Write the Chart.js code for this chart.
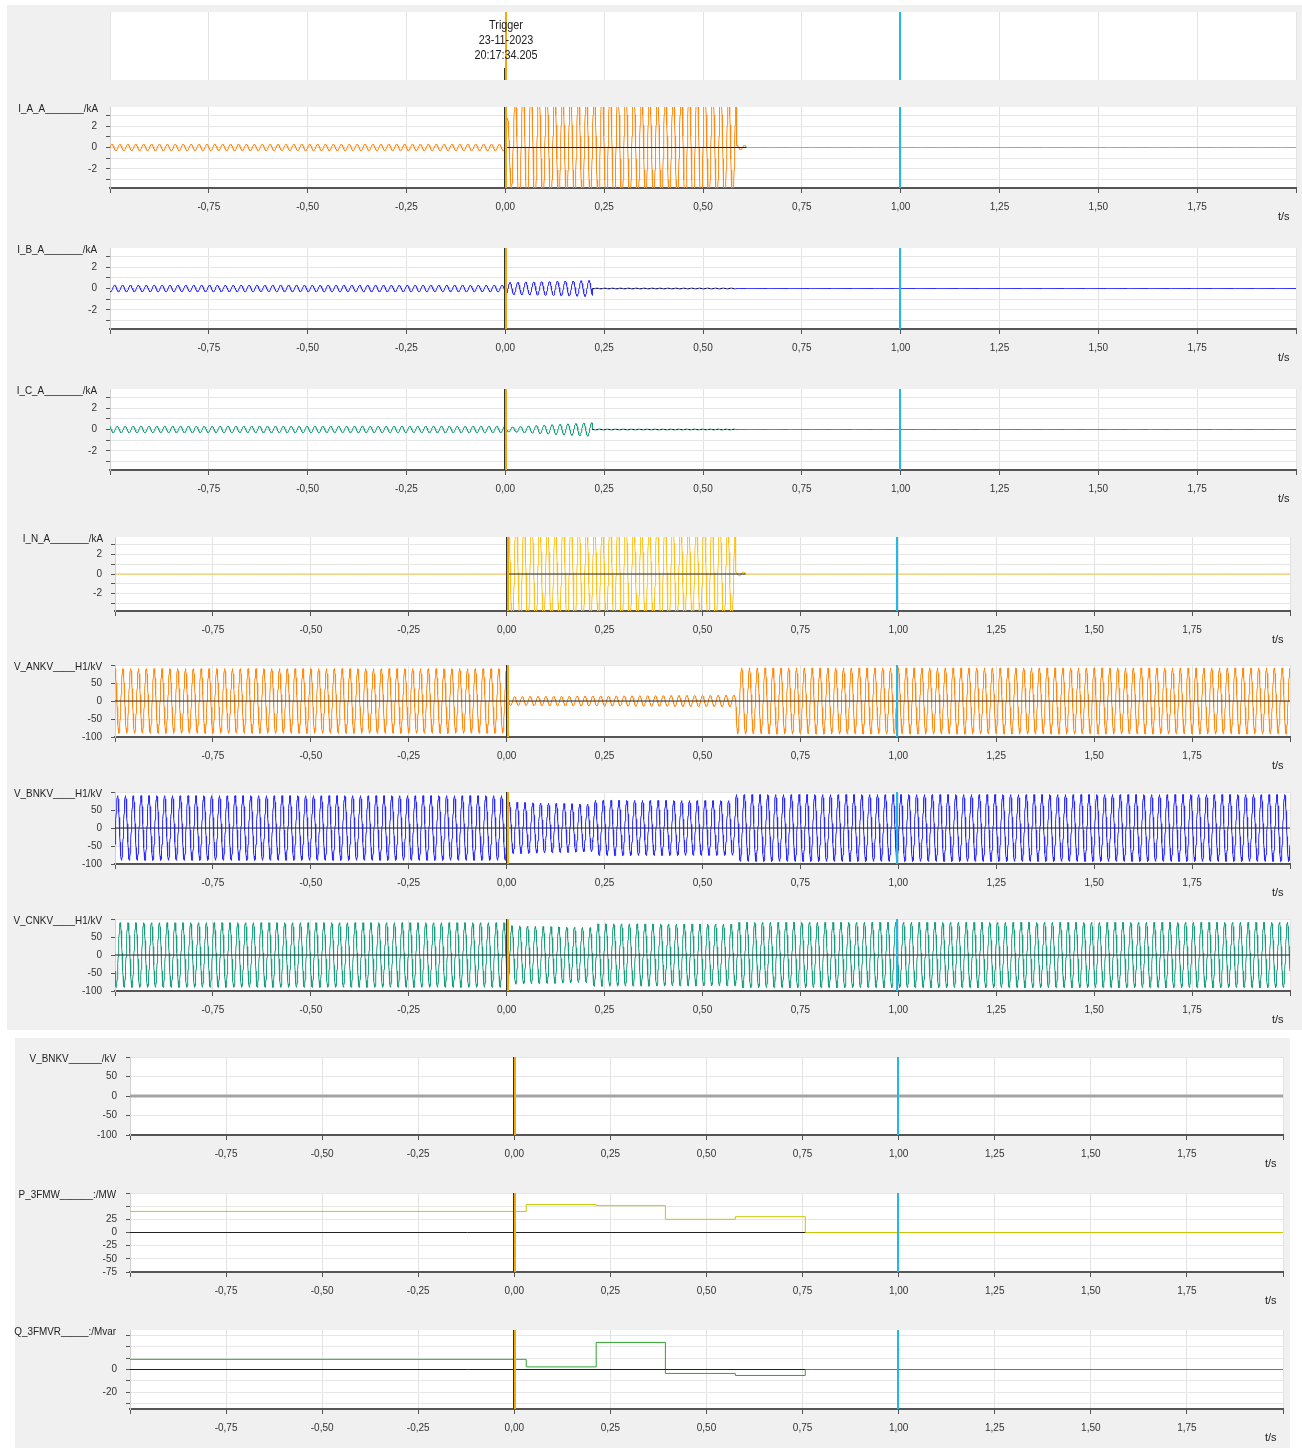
<!DOCTYPE html>
<html>
<head>
<meta charset="utf-8">
<title>Oscillography 23-11-2023</title>
<script src="https://cdn.jsdelivr.net/npm/chart.js@4.4.0/dist/chart.umd.min.js"></script>
<style>
body { margin: 0; background: #fff; width: 1302px; height: 1448px; position: relative; overflow: hidden;
       font-family: "Liberation Sans Narrow", "Liberation Sans", Arial, sans-serif; color: #222; }
.grp { position: absolute; background: #f0f0f0; }
.pan { position: absolute; left: 0; }
.lbl { position: absolute; left: 0; font-size: 11px; line-height: 14px; text-align: right; white-space: nowrap;
       transform: scaleX(0.9); transform-origin: right center; }
.unit { position: absolute; font-size: 11px; line-height: 14px; white-space: nowrap; }
.trig { position: absolute; font-size: 12px; line-height: 15px; text-align: center; width: 120px;
        transform: scaleX(0.9); }
</style>
</head>
<body>
<div class="grp" style="left:7px;top:5px;width:1295px;height:1025px"></div>
<div class="grp" style="left:15px;top:1038px;width:1275px;height:410px"></div>
<div id="root"></div>

<script>
// time axis (s)
const tickTimes = [-1, -0.75, -0.5, -0.25, 0, 0.25, 0.5, 0.75, 1, 1.25, 1.5, 1.75, 2];
const triggerTime = 0;
const cursorTime = 0.995;
const mainsHz = 50;

// phase currents, kA: segment edges, peak at start / end of each segment
const iaEdges = [-1, 0, 0.03, 0.585, 0.61, 2];
const iaPeakFrom = [0.3, 2.2, 5.5, 0.2, 0];
const iaPeakTo = [0.3, 5.5, 5.5, 0.2, 0];

const ibEdges = [-1, 0, 0.22, 0.585, 2];
const ibPeakFrom = [0.3, 0.55, 0.04, 0];
const ibPeakTo = [0.3, 0.75, 0.04, 0];

const icEdges = [-1, 0, 0.22, 0.585, 2];
const icPeakFrom = [0.3, 0.2, 0.04, 0];
const icPeakTo = [0.3, 0.65, 0.04, 0];

const inEdges = [-1, 0, 0.585, 0.61, 2];
const inPeakFrom = [0, 5.5, 0.2, 0];
const inPeakTo = [0, 5.5, 0.2, 0];

// phase voltages, kV
const vaEdges = [-1, 0, 0.585, 2];
const vaPeakFrom = [90, 12, 92];
const vaPeakTo = [90, 16, 92];

const vbEdges = [-1, 0, 0.22, 0.585, 2];
const vbPeakFrom = [90, 72, 77, 93];
const vbPeakTo = [90, 66, 76, 93];

const vcEdges = [-1, 0, 0.22, 0.585, 2];
const vcPeakFrom = [90, 82, 87, 91];
const vcPeakTo = [90, 76, 86, 91];

// second V_BNKV channel (flat)
const vb2Times = [-1, 2];
const vb2Values = [0, 0];

// three phase power, step values
const pqTimes = [-1, 0.031, 0.213, 0.393, 0.575, 0.757, 2];
const pValues = [40, 53, 51, 25, 30, 0, 0];
const qValues = [9, 2.3, 24, -3.5, -5.3, 0, 0];

// black zero reference spans [from, to]
const iaZero = [0, 0.61];
const ibZero = [0.22, 0.585];
const icZero = [0.22, 0.585];
const inZero = [0, 0.61];
const vZero = [-1, 2];
const pqZero = [-1, 0.757];

const ORANGE = '#ff8a14', BLUE = '#2a2aff', TEAL = '#1b9c7e', GOLD = '#ffc21c',
      OLIVE = '#c9c800', GREEN = '#2fa52f';
const FONT = "'Liberation Sans Narrow', 'Liberation Sans', Arial, sans-serif";

function buildWave(edges, from, to, phaseDeg) {
  const pts = [];
  const step = 1 / (mainsHz * 32);
  for (let i = 0; i < edges.length - 1; i++) {
    const a = edges[i], b = edges[i + 1];
    const n = Math.max(1, Math.round((b - a) / step));
    for (let k = 0; k <= n; k++) {
      const t = a + (b - a) * k / n;
      const amp = from[i] + (to[i] - from[i]) * k / n;
      pts.push({x: t, y: amp * Math.sin(2 * Math.PI * mainsHz * t + phaseDeg * Math.PI / 180)});
    }
  }
  return pts;
}

function pairs(xs, ys) {
  return xs.map((x, i) => ({x: x, y: ys[i]}));
}

function zeroLine(span, dashed) {
  return {data: [{x: span[0], y: 0}, {x: span[1], y: 0}], borderColor: '#222', borderWidth: 1,
          borderDash: dashed ? [2, 2] : [], pointRadius: 0};
}

function waveSet(pts, color) {
  return {data: pts, borderColor: color, borderWidth: 1, pointRadius: 0, tension: 0};
}

const whiteArea = {
  id: 'whiteArea',
  beforeDraw(chart) {
    const a = chart.chartArea, c = chart.ctx;
    c.save(); c.fillStyle = '#fff';
    c.fillRect(a.left, a.top, a.right - a.left, a.bottom - a.top);
    c.restore();
  }
};

const markers = {
  id: 'markers',
  afterDatasetsDraw(chart, args, opts) {
    const a = chart.chartArea, c = chart.ctx, x = chart.scales.x;
    const tx = Math.round(x.getPixelForValue(triggerTime));
    const cx = Math.round(x.getPixelForValue(cursorTime));
    c.save();
    c.fillStyle = '#333';
    if (opts.header) c.fillRect(tx - 1, a.bottom - 12, 1, 12);
    else c.fillRect(tx - 1, a.top, 1, a.bottom - a.top);
    c.fillStyle = '#efa90d';
    c.fillRect(tx, a.top, 2, a.bottom - a.top);
    c.fillStyle = '#22b9e8';
    c.fillRect(cx, a.top, 2, a.bottom - a.top);
    c.restore();
  }
};

function addDiv(cls, style, text) {
  const d = document.createElement('div');
  d.className = cls;
  d.style.cssText = style;
  if (text) d.textContent = text;
  document.getElementById('root').appendChild(d);
  return d;
}

function panelConfig(p, xH) {
  return {
    type: 'line',
    data: {datasets: p.datasets || []},
    options: {
      responsive: false, maintainAspectRatio: false, animation: false, events: [],
      parsing: false, normalized: true,
      layout: {padding: {top: 2, right: 6, left: 0, bottom: 0}},
      plugins: {legend: {display: false}, tooltip: {enabled: false}, markers: {header: !!p.header}},
      scales: {
        x: {
          type: 'linear', min: -1, max: 2,
          afterBuildTicks: s => { s.ticks = tickTimes.map(v => ({value: v})); },
          afterFit: s => { s.height = xH; },
          ticks: {
            display: !p.header, autoSkip: false, maxRotation: 0, padding: 8,
            color: '#333', font: {family: FONT, size: 10},
            callback: v => (v === -1 || v === 2) ? '' : v.toFixed(2).replace('.', ',')
          },
          grid: {color: '#e3e3e3', tickColor: '#555', tickLength: 5, drawTicks: !p.header},
          border: {display: !p.header, color: '#555', width: 2}
        },
        y: {
          min: p.yMin === undefined ? -1 : p.yMin, max: p.yMax === undefined ? 1 : p.yMax,
          afterBuildTicks: s => { s.ticks = (p.yTicks || []).map(v => ({value: v})); },
          afterFit: s => { s.width = p.l; },
          ticks: {
            display: !p.header, autoSkip: false, padding: 9, color: '#333', font: {family: FONT, size: 10},
            callback: v => (p.yLabels || []).includes(v) ? String(v) : ''
          },
          grid: {display: !p.header, color: '#e6e6e6', tickColor: '#555', tickLength: 4},
          border: {display: !p.header, color: '#d0d0d0', width: 1}
        }
      }
    },
    plugins: [whiteArea, markers]
  };
}

function makePanel(p) {
  const xH = p.header ? 0 : 40;
  let w = p.r + 6;
  let h = (p.b - p.t) + 2 + xH;
  const div = addDiv('pan', 'top:' + (p.t - 2) + 'px;width:' + w + 'px;height:' + h + 'px');
  let cv = document.createElement('canvas');
  cv.width = w; cv.height = h;
  cv.style.width = w + 'px'; cv.style.height = h + 'px';
  div.appendChild(cv);

  if (p.name) {
    addDiv('lbl', 'top:' + (p.t - 6) + 'px;width:' + p.nameRight + 'px', p.name);
    addDiv('unit', 'top:' + (p.b + 21) + 'px;left:' + (p.r - 18) + 'px', 't/s');
  }

  let chart = new Chart(cv.getContext('2d'), panelConfig(p, xH));
  // pin the plot rectangle: rebuild with the measured offsets
  const area = chart.chartArea;
  const dH = (p.b - p.t) - (area.bottom - area.top);
  const dW = p.r - area.right;
  if (dH !== 0 || dW !== 0) {
    chart.destroy();
    div.removeChild(cv);
    h += dH; w += dW;
    cv = document.createElement('canvas');
    cv.width = w; cv.height = h;
    cv.style.width = w + 'px'; cv.style.height = h + 'px';
    div.appendChild(cv);
    div.style.height = h + 'px';
    div.style.width = w + 'px';
    chart = new Chart(cv.getContext('2d'), panelConfig(p, xH));
  }
  div.style.top = (p.t - chart.chartArea.top) + 'px';
}

const curTicks = [-3, -2, -1, 0, 1, 2, 3], curLabels = [-2, 0, 2];
const voltTicks = [-100, -50, 0, 50, 100], voltLabels = [-100, -50, 0, 50];

const panels = [
  {header: true, l: 110, t: 12, r: 1296, b: 80},
  {name: 'I_A_A_______/kA', nameRight: 98, l: 110, t: 107, r: 1296, b: 188,
   yMin: -3.8, yMax: 3.8, yTicks: curTicks, yLabels: curLabels,
   datasets: [zeroLine(iaZero), waveSet(buildWave(iaEdges, iaPeakFrom, iaPeakTo, 0), ORANGE)]},
  {name: 'I_B_A_______/kA', nameRight: 97, l: 110, t: 248, r: 1296, b: 329,
   yMin: -3.8, yMax: 3.8, yTicks: curTicks, yLabels: curLabels,
   datasets: [zeroLine(ibZero, true), waveSet(buildWave(ibEdges, ibPeakFrom, ibPeakTo, -120), BLUE)]},
  {name: 'I_C_A_______/kA', nameRight: 97, l: 110, t: 389, r: 1296, b: 470,
   yMin: -3.8, yMax: 3.8, yTicks: curTicks, yLabels: curLabels,
   datasets: [zeroLine(icZero, true), waveSet(buildWave(icEdges, icPeakFrom, icPeakTo, 120), TEAL)]},
  {name: 'I_N_A_______/kA', nameRight: 103, l: 115, t: 537, r: 1290, b: 611,
   yMin: -3.8, yMax: 3.8, yTicks: curTicks, yLabels: curLabels,
   datasets: [zeroLine(inZero), waveSet(buildWave(inEdges, inPeakFrom, inPeakTo, 10), GOLD)]},
  {name: 'V_ANKV____H1/kV', nameRight: 102, l: 115, t: 665, r: 1290, b: 737,
   yMin: -100, yMax: 100, yTicks: voltTicks, yLabels: voltLabels,
   datasets: [zeroLine(vZero), waveSet(buildWave(vaEdges, vaPeakFrom, vaPeakTo, 90), ORANGE)]},
  {name: 'V_BNKV____H1/kV', nameRight: 102, l: 115, t: 792, r: 1290, b: 864,
   yMin: -100, yMax: 100, yTicks: voltTicks, yLabels: voltLabels,
   datasets: [zeroLine(vZero), waveSet(buildWave(vbEdges, vbPeakFrom, vbPeakTo, -30), BLUE)]},
  {name: 'V_CNKV____H1/kV', nameRight: 102, l: 115, t: 919, r: 1290, b: 991,
   yMin: -100, yMax: 100, yTicks: voltTicks, yLabels: voltLabels,
   datasets: [zeroLine(vZero), waveSet(buildWave(vcEdges, vcPeakFrom, vcPeakTo, 210), TEAL)]},
  {name: 'V_BNKV______/kV', nameRight: 116, l: 130, t: 1057, r: 1283, b: 1135,
   yMin: -100, yMax: 100, yTicks: voltTicks, yLabels: voltLabels,
   datasets: [{data: pairs(vb2Times, vb2Values), borderColor: '#a3a3a3', borderWidth: 3, pointRadius: 0}]},
  {name: 'P_3FMW______:/MW', nameRight: 116, l: 130, t: 1193, r: 1283, b: 1272,
   yMin: -75, yMax: 75, yTicks: [-75, -50, -25, 0, 25, 50, 75], yLabels: [-75, -50, -25, 0, 25],
   datasets: [zeroLine(pqZero),
              {data: pairs(pqTimes, pValues), borderColor: OLIVE, borderWidth: 1, pointRadius: 0, stepped: 'before'}]},
  {name: 'Q_3FMVR_____:/Mvar', nameRight: 116, l: 130, t: 1330, r: 1283, b: 1409,
   yMin: -35, yMax: 35, yTicks: [-30, -20, -10, 0, 10, 20, 30], yLabels: [-20, 0],
   datasets: [zeroLine(pqZero),
              {data: pairs(pqTimes, qValues), borderColor: GREEN, borderWidth: 1, pointRadius: 0, stepped: 'before'}]}
];

panels.forEach(makePanel);

// trigger caption over the header strip
const trig = addDiv('trig', 'left:446px;top:18px', '');
trig.innerHTML = 'Trigger<br>23-11-2023<br>20:17:34.205';
</script>
</body>
</html>
